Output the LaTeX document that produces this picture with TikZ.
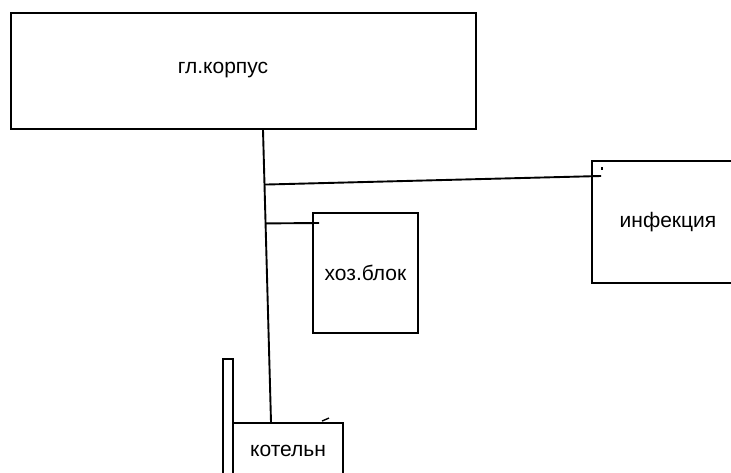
\documentclass[tikz,border=0pt]{standalone}
\usepackage{fontspec}
\setmainfont{Liberation Sans}
\usetikzlibrary{calc}

\begin{document}
\begin{tikzpicture}[x=1pt, y=-1pt,
  box/.style={draw, line width=1.9pt, rectangle, inner sep=0pt, font=\fontsize{21}{24}\selectfont},
  lbl/.style={inner sep=0pt, font=\fontsize{21}{24}\selectfont},
  wire/.style={line width=1.9pt}]
\useasboundingbox (0,0) rectangle (731,473);
\clip (0,0) rectangle (731,473);
\fill[white] (0,0) rectangle (731,473);
% buildings
\node[box, minimum width=465pt, minimum height=116pt] (korpus) at (243.5,71) {};
\node[lbl] (korpustxt) at (223,70) {гл.корпус};
\node[box, minimum width=152pt, minimum height=122pt] (infek) at (668,222) {инфекция};
\node[box, minimum width=105pt, minimum height=120pt] (hoz) at (365.5,273) {хоз.блок};
\node[box, minimum width=110pt, minimum height=56pt] (kotel) at (288,451) {котельн};
\node[box, minimum width=10pt, minimum height=121pt] (truba) at (228,419.5) {};
% trunk and branches
\coordinate (jtop) at ([xshift=19.5pt]korpus.south);
\coordinate (jbot) at ([xshift=-17pt]kotel.north);
\draw[wire] (jtop) -- (jbot);
\draw[wire] ($(jtop)!0.187!(jbot)$) -- ([xshift=10pt,yshift=46pt]infek.west);
\draw[wire] ($(jtop)!0.32!(jbot)$) -- ([xshift=7pt,yshift=50pt]hoz.west);
% small marks
\draw[line width=1.4pt] ([xshift=11pt,yshift=-7pt]infek.north west) -- ++(0,3);
\draw[line width=1.4pt] ([xshift=34pt,yshift=1pt]kotel.north) -- ++(7,-3);
\end{tikzpicture}
\end{document}
